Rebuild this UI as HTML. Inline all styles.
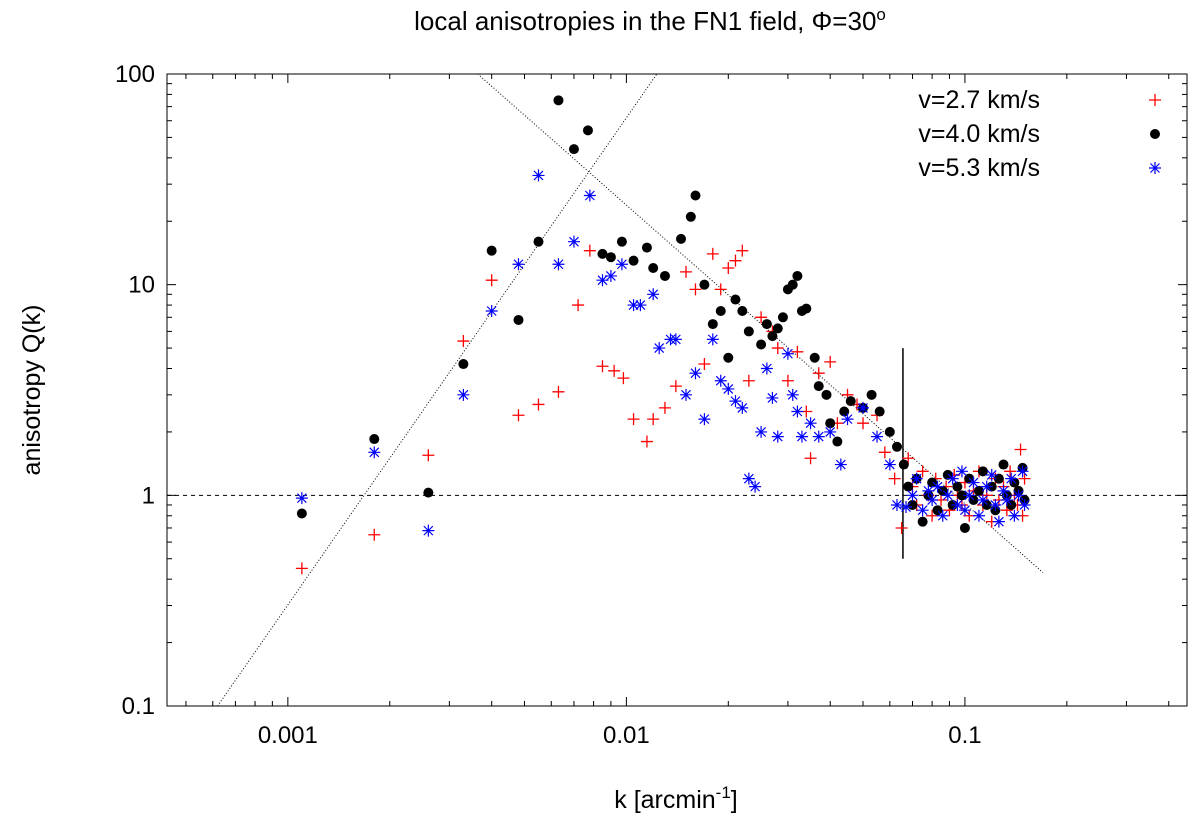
<!DOCTYPE html>
<html><head><meta charset="utf-8"><style>
body{margin:0;background:#fff}
svg{display:block;font-family:"Liberation Sans",sans-serif}
</style></head><body>
<svg id="chart" width="1200" height="821" viewBox="0 0 1200 821" xmlns="http://www.w3.org/2000/svg">
<text x="650" y="30" font-size="26" text-anchor="middle">local anisotropies in the FN1 field, Φ=30<tspan font-size="17" dy="-10">o</tspan></text>
<text transform="translate(40,390) rotate(-90)" font-size="25" text-anchor="middle">anisotropy Q(k)</text>
<text x="676" y="808" font-size="25" text-anchor="middle">k [arcmin<tspan font-size="17" dy="-10">-1</tspan><tspan dy="10">]</tspan></text>
<g id="axes"></g>
<g id="marks"></g>
</svg>
<script>
const xTicks=[0.001,0.01,0.1];
const xTickLabels=["0.001","0.01","0.1"];
const yTicks=[0.1,1,10,100];
const yTickLabels=["0.1","1","10","100"];
const seriesNames=["v=2.7 km/s","v=4.0 km/s","v=5.3 km/s"];
const red=[[0.0011,0.45],[0.0018,0.65],[0.0026,1.55],[0.0033,5.4],[0.004,10.5],[0.0048,2.4],[0.0055,2.7],[0.0063,3.1],[0.0072,8],[0.0078,14.5],[0.0085,4.1],[0.0092,3.9],[0.0098,3.6],[0.0105,2.3],[0.0115,1.8],[0.012,2.3],[0.013,2.6],[0.014,3.3],[0.015,11.5],[0.016,9.5],[0.017,4.2],[0.018,14],[0.019,9.5],[0.02,12],[0.021,13],[0.022,14.5],[0.023,3.5],[0.025,7],[0.027,6],[0.028,5],[0.03,3.5],[0.032,4.8],[0.034,2.5],[0.035,1.5],[0.037,3.8],[0.04,4.3],[0.042,2.2],[0.045,3],[0.048,2.7],[0.05,2.2],[0.055,2.4],[0.058,1.6],[0.062,1.2],[0.065,0.7],[0.068,1.5],[0.07,1.1],[0.072,0.9],[0.075,1.3],[0.078,1.0],[0.08,0.8],[0.082,1.2],[0.085,0.95],[0.088,1.1],[0.09,0.85],[0.093,1.25],[0.095,1.0],[0.098,0.9],[0.1,1.15],[0.103,0.8],[0.106,1.05],[0.11,1.3],[0.113,0.9],[0.116,1.0],[0.12,0.75],[0.123,1.2],[0.126,0.95],[0.13,1.1],[0.133,0.85],[0.136,1.3],[0.14,1.0],[0.143,0.9],[0.146,1.65],[0.15,1.2],[0.148,0.8]];
const black=[[0.0011,0.82],[0.0018,1.85],[0.0026,1.03],[0.0033,4.2],[0.004,14.5],[0.0048,6.8],[0.0055,16],[0.0063,75],[0.007,44],[0.0077,54],[0.0085,14],[0.009,13.5],[0.0097,16],[0.0105,13],[0.0115,15],[0.012,12],[0.013,11],[0.0145,16.5],[0.0155,21],[0.016,26.5],[0.017,10],[0.018,6.5],[0.019,7.5],[0.02,4.5],[0.021,8.5],[0.022,7.5],[0.023,6],[0.025,5.2],[0.026,6.5],[0.027,5.7],[0.028,6.2],[0.029,7],[0.03,9.5],[0.031,10],[0.032,11],[0.033,7.5],[0.034,7.7],[0.036,4.5],[0.037,3.3],[0.039,3],[0.04,2.2],[0.042,1.8],[0.044,2.5],[0.046,2.8],[0.05,2.6],[0.053,3],[0.056,2.5],[0.06,2],[0.063,1.7],[0.066,1.4],[0.068,1.1],[0.07,0.9],[0.072,1.2],[0.075,0.75],[0.078,1.0],[0.08,1.15],[0.083,0.85],[0.086,1.05],[0.089,1.25],[0.092,0.9],[0.095,1.1],[0.098,1.0],[0.1,0.7],[0.103,1.2],[0.106,0.95],[0.11,1.05],[0.113,1.3],[0.116,0.9],[0.12,1.1],[0.123,0.85],[0.126,1.2],[0.13,1.4],[0.133,1.0],[0.137,0.9],[0.14,1.15],[0.144,1.05],[0.148,1.35],[0.15,0.95]];
const blue=[[0.0011,0.97],[0.0018,1.6],[0.0026,0.68],[0.0033,3],[0.004,7.5],[0.0048,12.5],[0.0055,33],[0.0063,12.5],[0.007,16],[0.0078,26.5],[0.0085,10.5],[0.009,11],[0.0097,12.5],[0.0105,8],[0.011,8],[0.012,9],[0.0125,5],[0.0135,5.5],[0.014,5.5],[0.015,3],[0.016,3.8],[0.017,2.3],[0.018,5.5],[0.019,3.5],[0.02,3.2],[0.021,2.8],[0.022,2.6],[0.023,1.2],[0.024,1.1],[0.025,2],[0.026,4],[0.027,2.9],[0.028,1.9],[0.03,4.7],[0.031,3],[0.032,2.5],[0.033,1.9],[0.035,2.2],[0.037,1.9],[0.04,2],[0.043,1.4],[0.045,2.3],[0.05,2.6],[0.055,1.9],[0.06,1.4],[0.063,0.9],[0.067,0.88],[0.07,1.0],[0.072,1.2],[0.075,0.85],[0.078,1.05],[0.08,0.95],[0.083,1.1],[0.086,0.8],[0.089,1.0],[0.092,1.2],[0.095,0.9],[0.098,1.3],[0.1,0.85],[0.103,1.0],[0.106,1.15],[0.11,0.8],[0.113,0.95],[0.116,1.1],[0.12,1.25],[0.123,0.9],[0.126,0.75],[0.13,1.05],[0.133,0.95],[0.137,1.2],[0.14,0.8],[0.144,1.0],[0.148,1.3],[0.15,0.9]];
const L=167,R=1187,T=74,B=706;
const xMinLog=-3.357,xMaxLog=-0.344,yMinLog=-1,yMaxLog=2;
function X(k){return L+(Math.log10(k)-xMinLog)/(xMaxLog-xMinLog)*(R-L);}
function Y(q){return B-(Math.log10(q)-yMinLog)/(yMaxLog-yMinLog)*(B-T);}
const NS="http://www.w3.org/2000/svg";
function mk(tag,attrs,parent){const e=document.createElementNS(NS,tag);for(const a in attrs)e.setAttribute(a,attrs[a]);parent.appendChild(e);return e;}
const axes=document.getElementById('axes'),marks=document.getElementById('marks');
let fr=mk('rect',{x:L,y:T,width:R-L,height:B-T,fill:'none',stroke:'#000','stroke-width':1},axes);


for(let d=-4;d<=0;d++)for(let m=1;m<10;m++){const k=m*Math.pow(10,d);const lx=Math.log10(k);if(lx<xMinLog||lx>xMaxLog)continue;const x=X(k),len=m==1?9:5;
mk('line',{x1:x,y1:B,x2:x,y2:B-len,stroke:'#000'},axes);mk('line',{x1:x,y1:T,x2:x,y2:T+len,stroke:'#000'},axes);}
for(let d=-1;d<2;d++)for(let m=1;m<10;m++){const q=m*Math.pow(10,d);const y=Y(q),len=m==1?9:5;
mk('line',{x1:L,y1:y,x2:L+len,y2:y,stroke:'#000'},axes);mk('line',{x1:R,y1:y,x2:R-len,y2:y,stroke:'#000'},axes);}
xTicks.forEach((k,i)=>{const t=mk('text',{x:X(k),y:B+37,'font-size':24,'text-anchor':'middle'},axes);t.textContent=xTickLabels[i];

});
yTicks.forEach((q,i)=>{const t=mk('text',{x:L-12,y:Y(q)+8,'font-size':24,'text-anchor':'end'},axes);t.textContent=yTickLabels[i];

});
let h=mk('line',{x1:L,y1:Y(1),x2:R,y2:Y(1),stroke:'#000','stroke-dasharray':'4,4','stroke-width':1},axes);


let r1=mk('line',{x1:X(0.00062),y1:Y(0.1),x2:X(0.0123),y2:Y(100),stroke:'#000','stroke-dasharray':'1,2','stroke-width':1},axes);


let r2=mk('line',{x1:X(0.00364),y1:Y(100),x2:X(0.17),y2:Y(0.43),stroke:'#000','stroke-dasharray':'1,2','stroke-width':1},axes);


let v=mk('line',{x1:X(0.0656),y1:Y(5),x2:X(0.0656),y2:Y(0.5),stroke:'#000','stroke-width':1.5},axes);


function plus(x,y,g){mk('path',{d:`M${x-6},${y}h12M${x},${y-6}v12`,stroke:'#f00','stroke-width':1.3},g);}
function star(x,y,g){mk('path',{d:`M${x-6},${y}h12M${x},${y-6}v12M${x-4.5},${y-4.5}l9,9M${x-4.5},${y+4.5}l9,-9`,stroke:'#00f','stroke-width':1.2},g);}
function dot(x,y,g){mk('circle',{cx:x,cy:y,r:5,fill:'#000'},g);}
const draws=[[red,plus,'red'],[black,dot,'black'],[blue,star,'blue']];
draws.forEach(([data,fn,nm],si)=>{const g=mk('g',{},marks);


data.forEach(p=>fn(X(p[0]),Y(p[1]),g));
const ly=100+si*34;const t=mk('text',{x:1040,y:ly+8,'font-size':25,'text-anchor':'end'},marks);t.textContent=seriesNames[si];


fn(1155,ly,marks);});
</script>
</body></html>
